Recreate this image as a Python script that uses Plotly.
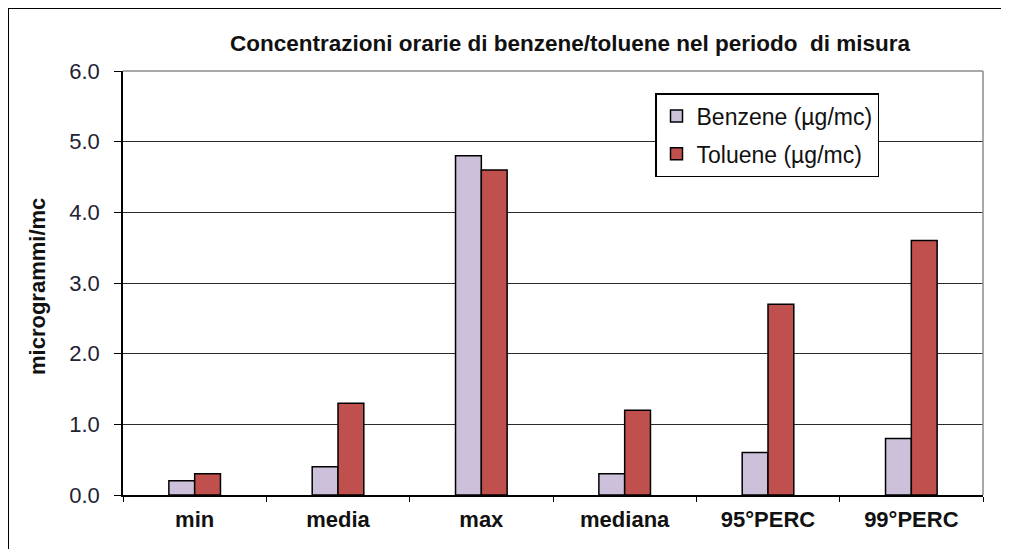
import plotly.graph_objects as go

categories = ["min", "media", "max", "mediana", "95°PERC", "99°PERC"]
benzene = [0.2, 0.4, 4.8, 0.3, 0.6, 0.8]
toluene = [0.3, 1.3, 4.6, 1.2, 2.7, 3.6]
series_names = ["Benzene (µg/mc)", "Toluene (µg/mc)"]
y_ticks = [0, 1, 2, 3, 4, 5, 6]
title_text = "Concentrazioni orarie di benzene/toluene nel periodo  di misura"
y_title = "microgrammi/mc"

FONT = "Liberation Sans, Arial, sans-serif"
FS = 22
OFF = 8  # body margin of the page
W, H = 1009 - 2 * OFF, 557 - 2 * OFF

# target plot area in screen pixels
PL, PR, PT, PB = 123, 983, 71, 495
PW, PH = PR - PL, PB - PT

fig = go.Figure()
fig.add_trace(go.Bar(x=categories, y=benzene, name=series_names[0], legendgroup="b",
                     marker=dict(color="#CCC0DA", line=dict(color="#000000", width=1.5))))
fig.add_trace(go.Bar(x=categories, y=toluene, name=series_names[1], legendgroup="t",
                     marker=dict(color="#C0504D", line=dict(color="#000000", width=1.5))))

fig.update_layout(
    width=W, height=H,
    margin=dict(l=PL - OFF, r=W - (PR - OFF), t=PT - OFF, b=H - (PB - OFF)),
    paper_bgcolor="white", plot_bgcolor="white",
    barmode="group", bargap=0.64, bargroupgap=0,
    font=dict(family=FONT, color="#222222"),
    showlegend=True,
    legend=dict(x=(655 - PL) / PW, y=(PB - 93) / PH, xanchor="left", yanchor="top",
                bgcolor="white", bordercolor="#000000", borderwidth=1.5,
                font=dict(family=FONT, size=23, color="#111111"),
                tracegroupgap=5, itemwidth=30, entrywidth=200),
    title=dict(text="<b>" + title_text + "</b>", xref="container", x=(570 - OFF) / W,
               xanchor="center", yref="container", y=1 - (43 - OFF) / H, yanchor="middle",
               font=dict(family=FONT, size=22.5, color="#111111")),
)

fig.update_xaxes(
    showline=True, linecolor="#000000", linewidth=1.5,
    ticks="outside", tickson="boundaries", ticklen=5, tickcolor="#000000",
    tickfont=dict(family=FONT, size=FS, color="#111111", weight="bold"),
    ticklabelstandoff=4,
    showgrid=False,
)
fig.update_yaxes(
    range=[0, 6], tickvals=y_ticks, tickformat=".1f",
    showline=True, linecolor="#000000", linewidth=1.5,
    ticks="outside", ticklen=7, tickcolor="#000000",
    tickfont=dict(family=FONT, size=FS, color="#222233"),
    ticklabelstandoff=10,
    showgrid=True, gridcolor="#2a2a2a", gridwidth=1.2,
    zeroline=False,
)

# y-axis title
fig.add_annotation(text="<b>" + y_title + "</b>", xref="paper", yref="paper",
                   x=(37 - PL) / PW, y=(PB - 287) / PH, showarrow=False,
                   xanchor="center", yanchor="middle",
                   textangle=-90, font=dict(family=FONT, size=FS, color="#111111"))

# plot-area border (top & right, gray)
fig.add_shape(type="line", xref="paper", yref="paper", x0=0, x1=1, y0=1, y1=1,
              line=dict(color="#8c8c8c", width=1.5), layer="above")
fig.add_shape(type="line", xref="paper", yref="paper", x0=1, x1=1, y0=0, y1=1,
              line=dict(color="#8c8c8c", width=1.5), layer="above")

# outer chart frame (only left & top edges are visible in the picture)
fx0, fy1 = (8 - PL) / PW, (PB - 8) / PH
fig.add_shape(type="line", xref="paper", yref="paper", x0=fx0, x1=fx0,
              y0=(PB - 620) / PH, y1=fy1, line=dict(color="#000000", width=2), layer="below")
fig.add_shape(type="line", xref="paper", yref="paper", x0=fx0, x1=(1060 - PL) / PW,
              y0=fy1, y1=fy1, line=dict(color="#000000", width=2), layer="below")

fig.write_html("out.html")
